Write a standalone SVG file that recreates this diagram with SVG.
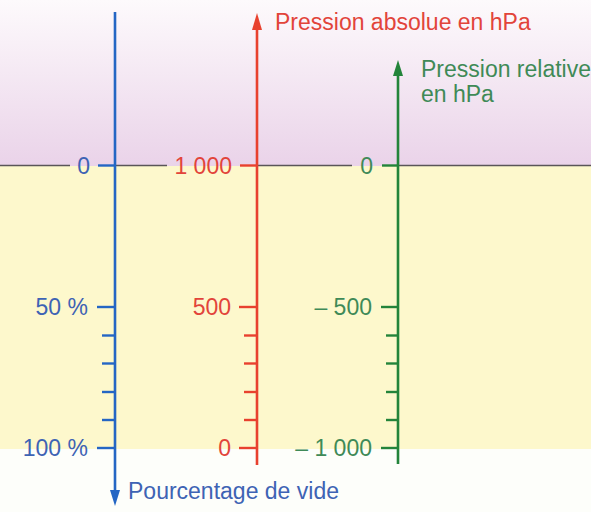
<svg xmlns="http://www.w3.org/2000/svg" width="591" height="512" viewBox="0 0 591 512">
<defs>
<linearGradient id="sky" x1="0" y1="0" x2="0" y2="1">
<stop offset="0" stop-color="#fdfafc"/>
<stop offset="1" stop-color="#ead3e9"/>
</linearGradient>
<style>
.t{font-family:"Liberation Sans",Arial,sans-serif;font-size:23px}
.b{fill:#3e63b4}.r{fill:#e2443a}.g{fill:#3f8a57}
.ax{stroke-width:2.6;fill:none}
.tk{stroke-width:2.4}
.hl{stroke:#5a5558;stroke-width:1.6}
</style>
</defs>
<rect x="0" y="0" width="591" height="166" fill="url(#sky)"/>
<rect x="0" y="166" width="591" height="283" fill="#fdf8cc"/>
<rect x="0" y="449" width="591" height="63" fill="#fdfefa"/>
<g id="baseline">
<line class="hl" x1="0" y1="165.5" x2="70" y2="165.5"/>
<line class="hl" x1="115" y1="165.5" x2="167" y2="165.5"/>
<line class="hl" x1="257" y1="165.5" x2="352" y2="165.5"/>
<line class="hl" x1="398" y1="165.5" x2="591" y2="165.5"/>
</g>
<g id="connectors">
<line class="ax" stroke="#2466c4" x1="115" y1="12" x2="115" y2="492"/>
<path d="M110,490 L115,506 L120,490 Z" fill="#2466c4"/>
<line class="ax" stroke="#e8412e" x1="257" y1="28" x2="257" y2="465"/>
<path d="M252,30 L257,13 L262,30 Z" fill="#e8412e"/>
<line class="ax" stroke="#23843a" x1="398" y1="74" x2="398" y2="464"/>
<path d="M393,76 L398,60 L403,76 Z" fill="#23843a"/>
</g>
<g id="blue-axis" stroke="#2466c4">
<line class="tk" x1="98" y1="165.5" x2="115" y2="165.5"/>
<line class="tk" x1="97" y1="307" x2="115" y2="307"/>
<line class="tk" x1="102" y1="335.5" x2="115" y2="335.5"/>
<line class="tk" x1="102" y1="363.5" x2="115" y2="363.5"/>
<line class="tk" x1="102" y1="392" x2="115" y2="392"/>
<line class="tk" x1="102" y1="420" x2="115" y2="420"/>
<line class="tk" x1="97" y1="448" x2="115" y2="448"/>
<g stroke="none">
<text class="t b" x="90" y="174" text-anchor="end">0</text>
<text class="t b" x="88" y="315" text-anchor="end">50 %</text>
<text class="t b" x="88" y="456" text-anchor="end">100 %</text>
<text class="t b" x="128" y="499">Pourcentage de vide</text>
</g>
</g>
<g id="red-axis" stroke="#e8412e">
<line class="tk" x1="240" y1="165.5" x2="257" y2="165.5"/>
<line class="tk" x1="239" y1="307" x2="257" y2="307"/>
<line class="tk" x1="244" y1="335.5" x2="257" y2="335.5"/>
<line class="tk" x1="244" y1="363.5" x2="257" y2="363.5"/>
<line class="tk" x1="244" y1="392" x2="257" y2="392"/>
<line class="tk" x1="244" y1="420" x2="257" y2="420"/>
<line class="tk" x1="239" y1="448" x2="257" y2="448"/>
<g stroke="none">
<text class="t r" x="232" y="174" text-anchor="end">1 000</text>
<text class="t r" x="231" y="315" text-anchor="end">500</text>
<text class="t r" x="231" y="456" text-anchor="end">0</text>
<text class="t r" x="275" y="30">Pression absolue en hPa</text>
</g>
</g>
<g id="green-axis" stroke="#23843a">
<line class="tk" x1="382" y1="165.5" x2="398" y2="165.5"/>
<line class="tk" x1="381" y1="307" x2="398" y2="307"/>
<line class="tk" x1="386" y1="335.5" x2="398" y2="335.5"/>
<line class="tk" x1="386" y1="363.5" x2="398" y2="363.5"/>
<line class="tk" x1="386" y1="392" x2="398" y2="392"/>
<line class="tk" x1="386" y1="420" x2="398" y2="420"/>
<line class="tk" x1="381" y1="448" x2="398" y2="448"/>
<g stroke="none">
<text class="t g" x="373" y="174" text-anchor="end">0</text>
<text class="t g" x="372" y="315" text-anchor="end">– 500</text>
<text class="t g" x="372" y="456" text-anchor="end">– 1 000</text>
<text class="t g" x="421" y="77">Pression relative</text>
<text class="t g" x="421" y="102">en hPa</text>
</g>
</g>
</svg>
